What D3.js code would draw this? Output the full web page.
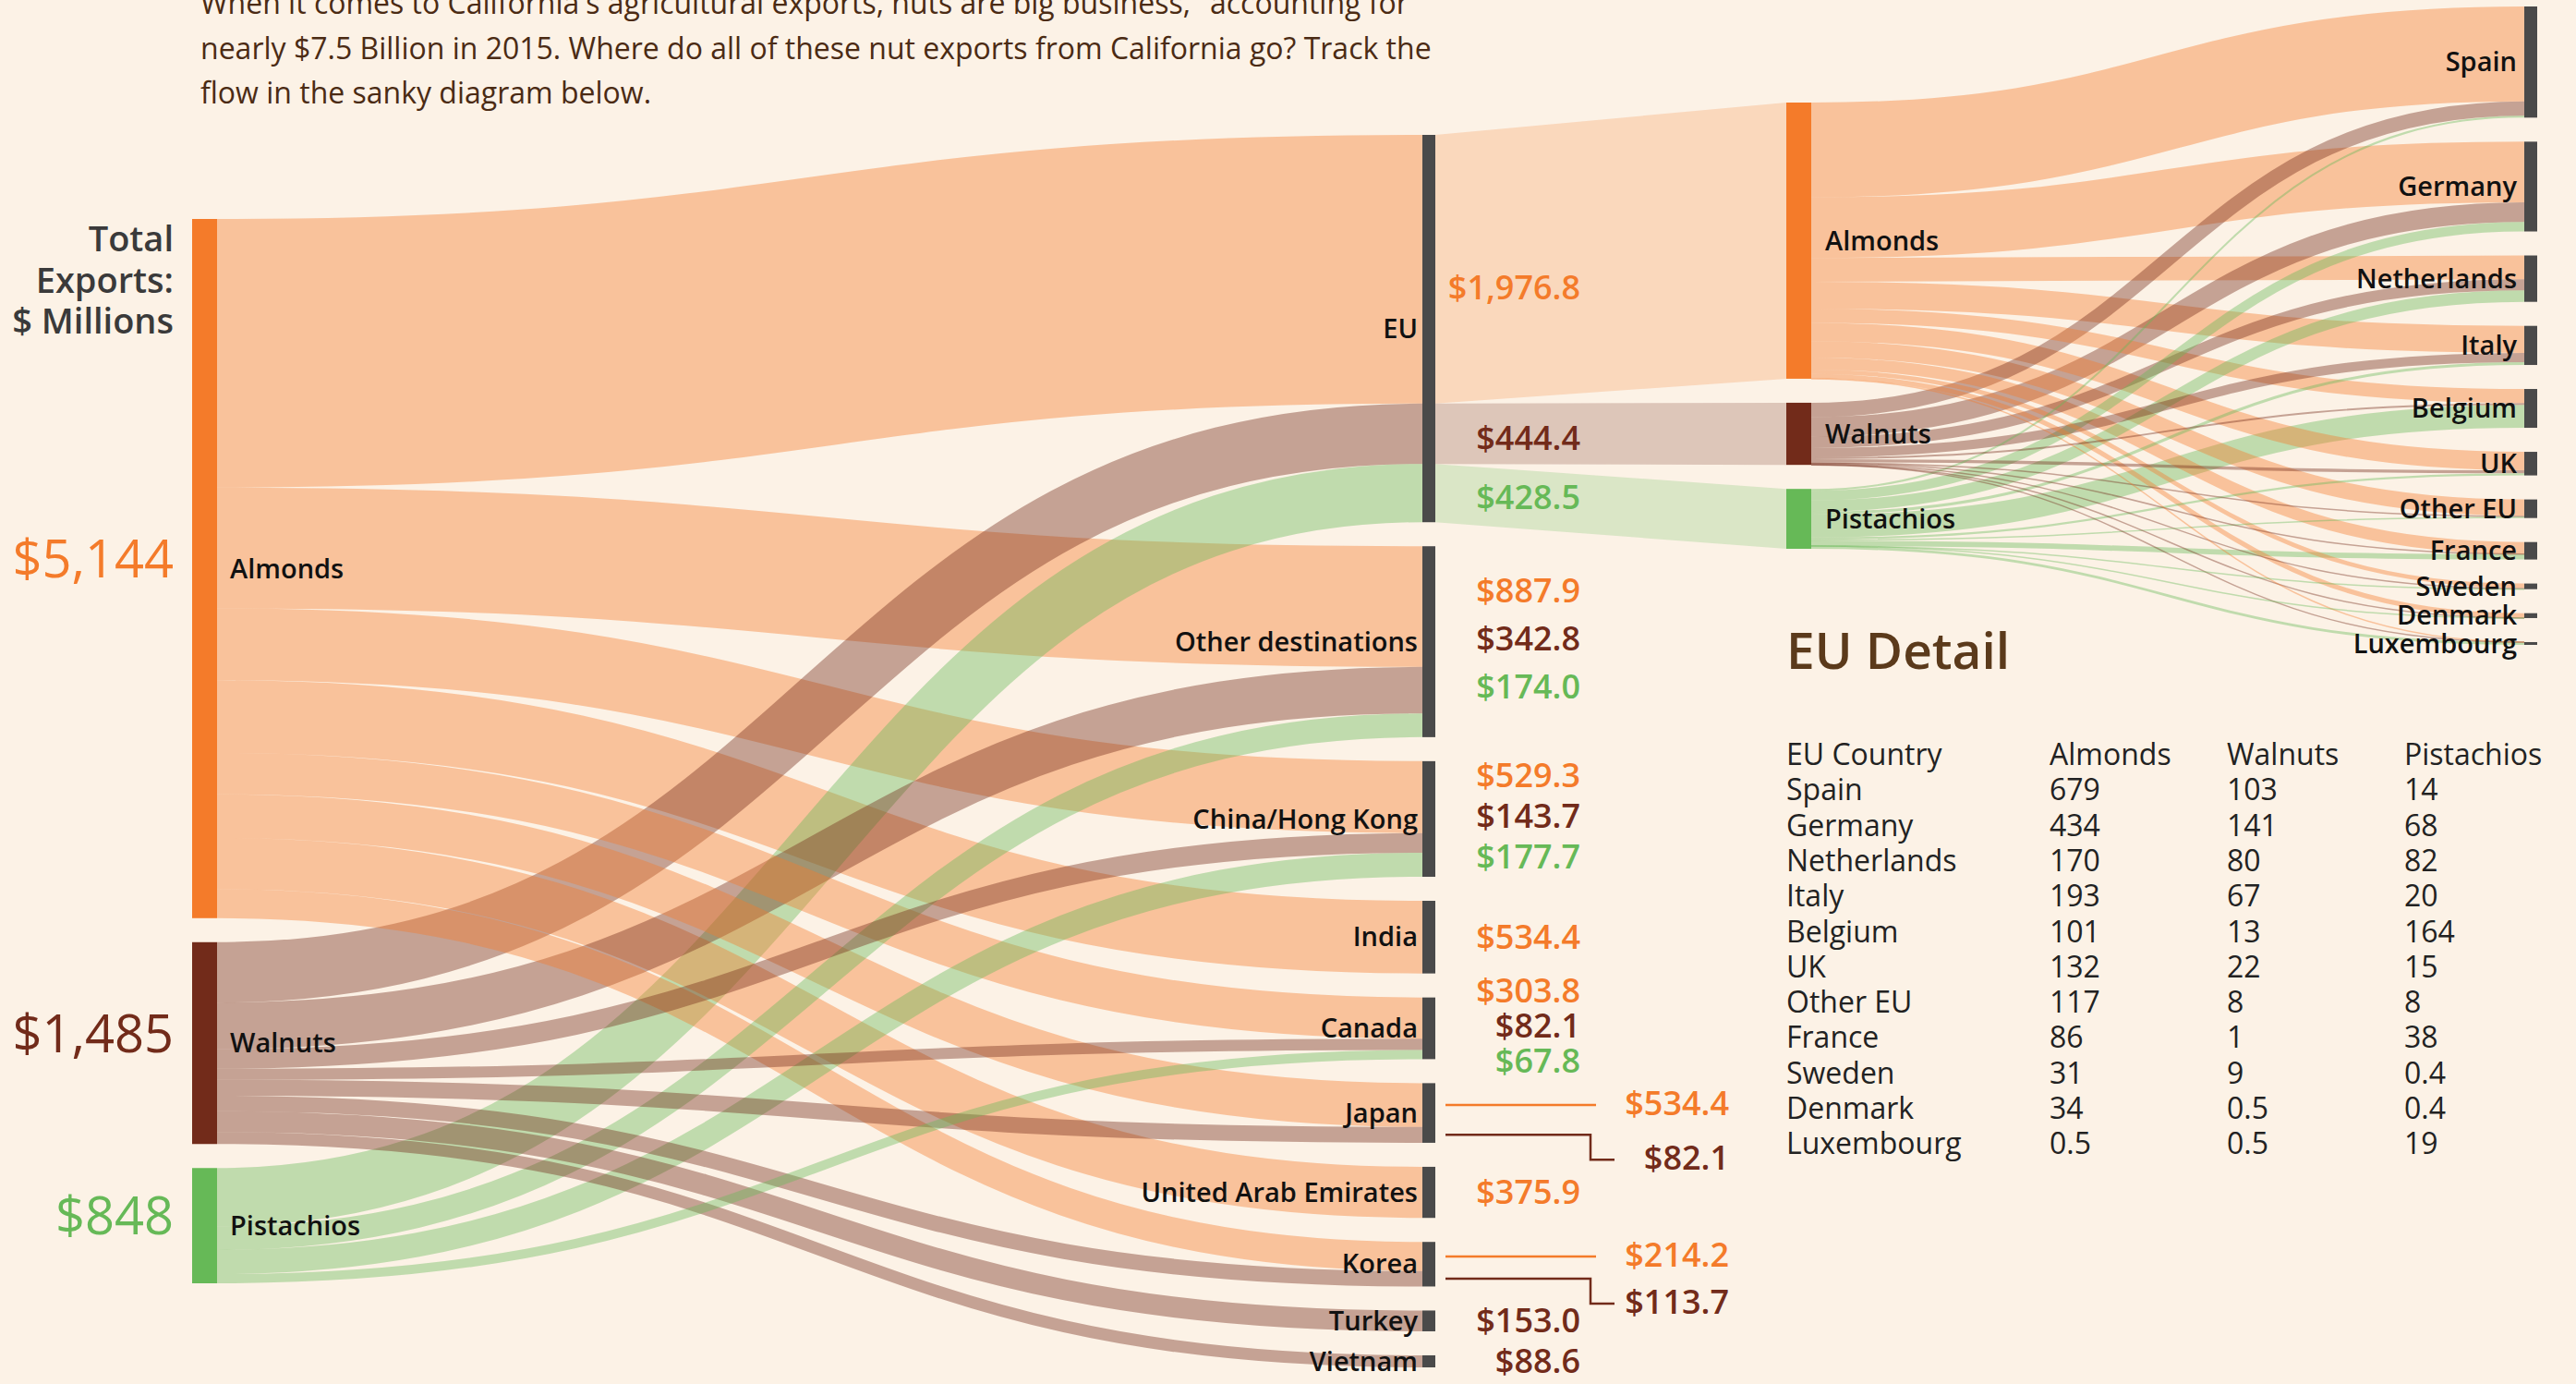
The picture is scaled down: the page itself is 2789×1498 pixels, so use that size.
<!DOCTYPE html>
<html>
<head>
<meta charset="utf-8">
<script src="https://cdn.jsdelivr.net/npm/d3@7"></script>
<style>
  html, body { margin: 0; padding: 0; background: #fcf2e6; }
  svg { display: block; font-family: "Open Sans", sans-serif; }
</style>
</head>
<body>
<svg id="chart" width="2789" height="1498"></svg>
<script>
// ---- data ($ millions, 2015) ----
const introLines = [
    "When it comes to California's agricultural exports, nuts are big business, \"accounting for",
    "nearly $7.5 Billion in 2015. Where do all of these nut exports from California go? Track the",
    "flow in the sanky diagram below."
];
const nuts = ["Almonds", "Walnuts", "Pistachios"];
const destinations = ["EU", "Other destinations", "China/Hong Kong", "India", "Canada",
    "Japan", "United Arab Emirates", "Korea", "Turkey", "Vietnam"];
const almondExports    = [1976.8, 887.9, 529.3, 534.4, 303.8, 322.0, 375.9, 214.2, 0, 0];
const walnutExports    = [444.4, 342.8, 143.7, 0, 82.1, 116.7, 0, 113.7, 153.0, 88.6];
const pistachioExports = [428.5, 174.0, 177.7, 0, 67.8, 0, 0, 0, 0, 0];
// the original prints these two figures next to Japan, the bands are drawn at the sizes above
const printedJapan = { Almonds: 534.4, Walnuts: 82.1 };

const euCountries  = ["Spain", "Germany", "Netherlands", "Italy", "Belgium", "UK",
    "Other EU", "France", "Sweden", "Denmark", "Luxembourg"];
const euAlmonds    = [679, 434, 170, 193, 101, 132, 117, 86, 31, 34, 0.5];
const euWalnuts    = [103, 141, 80, 67, 13, 22, 8, 1, 9, 0.5, 0.5];
const euPistachios = [14, 68, 82, 20, 164, 15, 8, 38, 0.4, 0.4, 19];
const tableHeader  = ["EU Country", "Almonds", "Walnuts", "Pistachios"];

const nutColor  = d3.scaleOrdinal(nuts, ["#f47b2a", "#722b1a", "#66b957"]);
const destColor = "#4a4a4a";
const money  = d3.format("$,.1f");
const money0 = d3.format("$,.0f");

const svg = d3.select("#chart");
svg.append("rect").attr("width", 2789).attr("height", 1498).attr("fill", "#fcf2e6");

// small sankey layout: columns are stacked with fixed padding and centred in the extent
function layout(columns, linkList, o) {
    const byName = new Map();
    const cols = columns.map((names, c) => names.map(name => {
        const n = { name, col: c, out: [], inn: [] };
        byName.set(name, n);
        return n;
    }));
    const links = linkList.filter(l => l.value > 0).map(l => {
        const link = { source: byName.get(l.source), target: byName.get(l.target), value: l.value };
        link.source.out.push(link);
        link.target.inn.push(link);
        return link;
    });
    cols.flat().forEach(n => {
        n.value = Math.max(d3.sum(n.out, l => l.value), d3.sum(n.inn, l => l.value));
    });
    const [y0, y1] = o.extent;
    const ky = d3.min(cols, col => (y1 - y0 - (col.length - 1) * o.padding) / d3.sum(col, n => n.value));
    cols.forEach((col, c) => {
        const h = d3.sum(col, n => n.value) * ky + (col.length - 1) * o.padding;
        let y = y0 + (y1 - y0 - h) / 2;
        col.forEach(n => {
            n.x0 = o.x[c];
            n.x1 = o.x[c] + o.width[c];
            n.y0 = y;
            n.y1 = y + n.value * ky;
            y = n.y1 + o.padding;
        });
    });
    links.forEach(l => l.width = l.value * ky);
    cols.flat().forEach(n => {
        let y = n.y0;
        n.out.sort((a, b) => a.target.y0 - b.target.y0)
            .forEach(l => { l.y0 = y + l.width / 2; y += l.width; });
        y = n.y0;
        n.inn.sort((a, b) => a.source.y0 - b.source.y0)
            .forEach(l => { l.y1 = y + l.width / 2; y += l.width; });
    });
    return { nodes: cols.flat(), links, byName };
}

const exportsByNut = [almondExports, walnutExports, pistachioExports];
const main = layout([nuts, destinations],
    destinations.flatMap((d, i) => nuts.map((nut, j) => ({ source: nut, target: d, value: exportsByNut[j][i] }))),
    { x: [208, 1540], width: [27, 14], extent: [146, 1480], padding: 26 });

const euByNut = [euAlmonds, euWalnuts, euPistachios];
const eu = layout([nuts, euCountries],
    euCountries.flatMap((c, i) => nuts.map((nut, j) => ({ source: nut, target: c, value: euByNut[j][i] }))),
    { x: [1934, 2733], width: [27, 14], extent: [7, 698], padding: 26 });

const linkPath = d3.linkHorizontal()
    .source(d => [d.source.x1, d.y0])
    .target(d => [d.target.x0, d.y1]);

// ---- connectors from the EU node to the EU detail ----
const euNode = main.byName.get("EU");
const band = d3.area().x(d => d.x).y0(d => d.top).y1(d => d.bottom);
svg.append("g").selectAll("path")
    .data(euNode.inn)
    .join("path")
    .attr("d", l => {
        const sub = eu.byName.get(l.source.name);
        return band([
            { x: euNode.x1, top: l.y1 - l.width / 2, bottom: l.y1 + l.width / 2 },
            { x: sub.x0, top: sub.y0, bottom: sub.y1 }
        ]);
    })
    .attr("fill", l => nutColor(l.source.name))
    .attr("fill-opacity", 0.22);

// ---- links ----
[main, eu].forEach(s => {
    svg.append("g")
        .attr("fill", "none")
        .selectAll("path")
        .data(s.links.slice().sort((a, b) => b.value - a.value))
        .join("path")
        .attr("d", linkPath)
        .attr("stroke", d => nutColor(d.source.name))
        .attr("stroke-opacity", 0.4)
        .attr("stroke-width", d => Math.max(1.5, d.width));
});

// ---- nodes ----
[main, eu].forEach(s => {
    svg.append("g").selectAll("rect")
        .data(s.nodes)
        .join("rect")
        .attr("x", d => d.x0)
        .attr("y", d => d.y0)
        .attr("width", d => d.x1 - d.x0)
        .attr("height", d => Math.max(3, d.y1 - d.y0))
        .attr("fill", d => d.col === 0 ? nutColor(d.name) : destColor);
});

// ---- intro text ----
svg.append("g").selectAll("text")
    .data(introLines)
    .join("text")
    .attr("x", 217)
    .attr("y", (d, i) => 15 + i * 48.5)
    .attr("font-size", 32)
    .attr("fill", "#4b2b14")
    .text(d => d);

// ---- left column labels ----
const nutNodes = main.nodes.filter(n => n.col === 0);
svg.append("g").selectAll("text")
    .data(["Total", "Exports:", "$ Millions"])
    .join("text")
    .attr("x", nutNodes[0].x0 - 20)
    .attr("y", (d, i) => nutNodes[0].y0 + 35 + i * 44.5)
    .attr("text-anchor", "end")
    .attr("font-size", 38)
    .attr("font-weight", 600)
    .attr("fill", "#3a3a3a")
    .text(d => d);

svg.append("g").selectAll("text")
    .data(nutNodes)
    .join("text")
    .attr("x", d => d.x0 - 20)
    .attr("y", d => (d.y0 + d.y1) / 2)
    .attr("dy", "0.17em")
    .attr("text-anchor", "end")
    .attr("font-size", 56)
    .attr("fill", d => nutColor(d.name))
    .text(d => money0(d.value));

const nameLabels = (nodes, x, anchor) => svg.append("g").selectAll("text")
    .data(nodes)
    .join("text")
    .attr("x", x)
    .attr("y", d => (d.y0 + d.y1) / 2)
    .attr("dy", "0.35em")
    .attr("text-anchor", anchor)
    .attr("font-size", 29)
    .attr("font-weight", 600)
    .attr("fill", "#111")
    .text(d => d.name);

nameLabels(nutNodes, d => d.x1 + 14, "start");
nameLabels(main.nodes.filter(n => n.col === 1), d => d.x0 - 5, "end");
nameLabels(eu.nodes.filter(n => n.col === 0), d => d.x1 + 15, "start");
nameLabels(eu.nodes.filter(n => n.col === 1), d => d.x0 - 8, "end");

// ---- value labels beside the destinations ----
const spacing = d3.scaleLinear().domain([66, 206]).range([38, 52]).clamp(true);
const valueG = svg.append("g").attr("font-size", 36).attr("font-weight", 600);
main.nodes.filter(n => n.col === 1).forEach(n => {
    const inn = n.inn;
    const cy = (n.y0 + n.y1) / 2;
    const label = l => n.name === "Japan" ? money(printedJapan[l.source.name]) : money(l.value);
    if (inn.length === 2) {
        // leader lines
        inn.forEach((l, i) => {
            const sx = n.x1 + 11;
            const ey = i === 0 ? l.y1 : l.y1 + 27;
            const pts = i === 0
                ? [[sx, l.y1], [n.x1 + 174, l.y1]]
                : [[sx, l.y1], [n.x1 + 168, l.y1], [n.x1 + 168, ey], [n.x1 + 194, ey]];
            valueG.append("path")
                .attr("d", d3.line()(pts))
                .attr("fill", "none")
                .attr("stroke", nutColor(l.source.name))
                .attr("stroke-width", 2.5);
            valueG.append("text")
                .attr("x", n.x1 + 318)
                .attr("y", ey)
                .attr("dy", "0.3em")
                .attr("text-anchor", "end")
                .attr("fill", nutColor(l.source.name))
                .text(label(l));
        });
    } else {
        const tall = n.y1 - n.y0 > 300;
        const s = spacing(n.y1 - n.y0);
        inn.forEach((l, i) => {
            const y = tall
                ? l.y1 + l.width * 0.07
                : cy + (i - (inn.length - 1) / 2) * s - (inn.length > 1 ? 3 : 0);
            valueG.append("text")
                .attr("x", n.x1 + 157)
                .attr("y", y)
                .attr("dy", "0.35em")
                .attr("text-anchor", "end")
                .attr("fill", nutColor(l.source.name))
                .text(label(l));
        });
    }
});

// ---- EU detail table ----
svg.append("text")
    .attr("x", 1934)
    .attr("y", 724)
    .attr("font-size", 55)
    .attr("font-weight", 600)
    .attr("fill", "#5b3a1b")
    .text("EU Detail");

const colX = [1934, 2219, 2411, 2603];
const rows = [tableHeader].concat(euCountries.map((c, i) => [c, euAlmonds[i], euWalnuts[i], euPistachios[i]]));
const table = svg.append("g").attr("font-size", 32).attr("fill", "#222");
rows.forEach((row, r) => {
    table.append("g").selectAll("text")
        .data(row)
        .join("text")
        .attr("x", (d, c) => colX[c])
        .attr("y", 828 + r * 38.3)
        .text(d => d);
});
</script>
</body>
</html>
